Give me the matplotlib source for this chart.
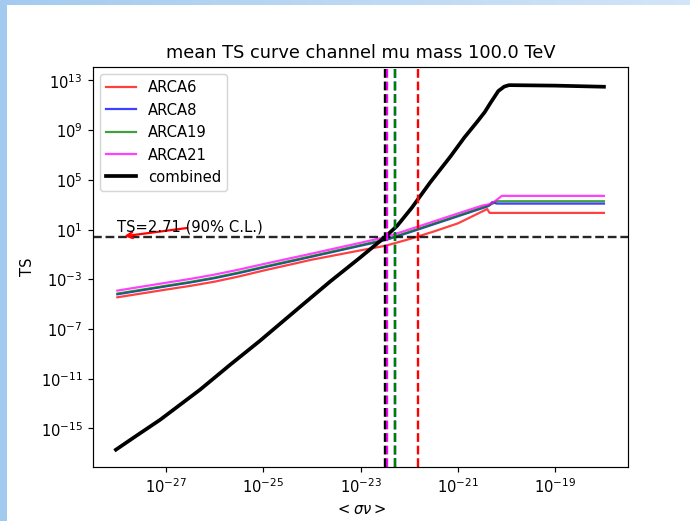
import numpy as np
import matplotlib
matplotlib.use("Agg")
import matplotlib.pyplot as plt
from matplotlib.patches import Rectangle
from matplotlib.ticker import NullLocator

# ─── Datos (log10) ────────────────────────────────────────────────────────────

LOG_SV = [-28, -27, -26.5, -26, -25.5, -25, -24, -23, -22.5, -22, -21.5, -21, -20.5,
          -20.4, -20.35, -20.3, -20.2, -20.1, -20.0, -19, -18]

LOG_TS_ARCA6 = [-4.45, -3.83, -3.53, -3.19, -2.77, -2.30, -1.42, -0.67, -0.31, 0.23, 0.84,
                1.50, 2.46, 2.65, 2.34, 2.34, 2.34, 2.34, 2.34, 2.34, 2.34]
LOG_TS_ARCA8 = [-4.21, -3.57, -3.26, -2.91, -2.50, -2.05, -1.18, -0.30, 0.14, 0.77, 1.42,
                2.07, 2.72, 2.85, 2.95, 3.20, 3.09, 3.09, 3.09, 3.09, 3.09]
LOG_TS_ARCA19 = [-4.15, -3.52, -3.21, -2.86, -2.45, -2.00, -1.13, -0.25, 0.19, 0.82, 1.47,
                 2.12, 2.77, 2.90, 2.98, 3.06, 3.28, 3.28, 3.28, 3.28, 3.28]
LOG_TS_ARCA21 = [-3.91, -3.28, -2.97, -2.62, -2.22, -1.78, -0.93, -0.06, 0.38, 1.01, 1.65,
                 2.30, 2.93, 3.00, 3.05, 3.12, 3.40, 3.71, 3.71, 3.71, 3.71]

LOG_SV_COMB = [-28.03, -27.64, -27.12, -26.30, -25.68, -25.07, -24.24, -23.63, -23.01,
               -22.49, -22.25, -21.95, -21.57, -21.16, -20.87, -20.60, -20.45, -20.33,
               -20.17, -20.05, -19.95, -19.0, -18.0]
LOG_TS_COMB = [-16.71, -15.67, -14.30, -11.88, -9.87, -7.95, -5.20, -3.19, -1.25,
               0.43, 1.30, 2.75, 4.80, 6.85, 8.40, 9.70, 10.45, 11.20,
               12.15, 12.50, 12.62, 12.58, 12.49]

# <sigma v> donde cada curva cruza TS = 2.71
UL_LOG_SV = {"ARCA6": -21.82, "ARCA8": -22.30, "ARCA19": -22.30,
             "ARCA21": -22.45, "combined": -22.49}

TS_90 = 2.71
LABELS = ["ARCA6", "ARCA8", "ARCA19", "ARCA21"]
COLORS = ["red", "blue", "green", "magenta"]

# ─── Figura ───────────────────────────────────────────────────────────────────

DPI = 106.6
fig = plt.figure(figsize=(690.3 / DPI, 521.3 / DPI), dpi=DPI)

# borde azul de la captura original
fig.add_artist(Rectangle((0, 0), 7 / 690, 1, transform=fig.transFigure,
                         color="#a2c9ee", lw=0, zorder=-5))
top = fig.add_axes([0, 1 - 5 / 521, 1, 5 / 521])
grad = np.linspace(0, 1, 256)[None, :]
top.imshow(grad, aspect="auto", cmap=matplotlib.colors.LinearSegmentedColormap.from_list(
    "b", ["#a4cbef", "#d3e5f8"]), extent=[0, 1, 0, 1])
top.axis("off")

ax = fig.add_axes([93 / 690, 1 - 467 / 521, 535 / 690, 400 / 521])

sv = 10 ** np.array(LOG_SV)
series = [LOG_TS_ARCA6, LOG_TS_ARCA8, LOG_TS_ARCA19, LOG_TS_ARCA21]
for lab, col, ts in zip(LABELS, COLORS, series):
    ax.plot(sv, 10 ** np.array(ts), color=col, lw=1.5, alpha=0.75, label=lab)

ax.plot(10 ** np.array(LOG_SV_COMB), 10 ** np.array(LOG_TS_COMB),
        color="black", lw=2.5, label="combined")

ax.axhline(TS_90, color="black", ls="--", lw=1.6, alpha=0.85)
for lab, col in zip(LABELS + ["combined"], COLORS + ["black"]):
    ax.axvline(10 ** UL_LOG_SV[lab], color=col, ls="--", lw=1.6)

ax.annotate("", xy=(10 ** -27.92, TS_90), xytext=(10 ** -26.5, 10 ** 1.16),
            arrowprops=dict(arrowstyle="->", color="red", lw=1.5))
ax.text(1e-28, 10 ** 0.86, "TS=2.71 (90% C.L.)")

ax.set_xscale("log")
ax.set_yscale("log")
ax.set_xticks([1e-27, 1e-25, 1e-23, 1e-21, 1e-19])
ax.set_yticks([1e-15, 1e-11, 1e-7, 1e-3, 1e1, 1e5, 1e9, 1e13])
ax.xaxis.set_minor_locator(NullLocator())
ax.yaxis.set_minor_locator(NullLocator())
ax.set_xlim(10 ** -28.5, 10 ** -17.5)
ax.set_ylim(10 ** -18.1, 10 ** 14.1)

ax.set_xlabel(r"$<\sigma\nu>$")
ax.set_ylabel("TS")
ax.set_title("mean TS curve channel mu mass 100.0 TeV")
ax.legend(loc="upper left")

fig.savefig("out.png", dpi=DPI)
